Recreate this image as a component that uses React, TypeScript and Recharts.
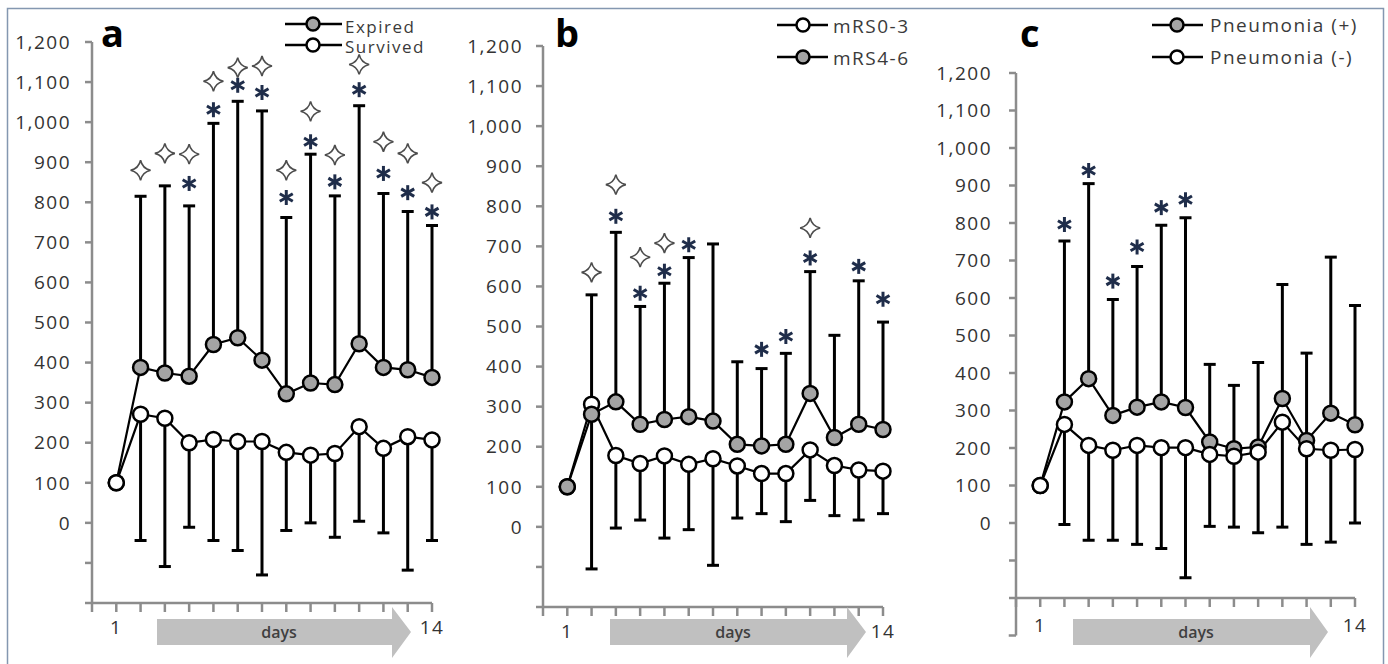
import React from 'react';
import { ComposedChart, Line, XAxis, YAxis, ErrorBar, Scatter, ReferenceLine } from 'recharts';

const DAYS = [1, 2, 3, 4, 5, 6, 7, 8, 9, 10, 11, 12, 13, 14];
const X_TICKS = [0, 1, 2, 3, 4, 5, 6, 7, 8, 9, 10, 11, 12, 13, 14];
const X_LABELED = [1, 14];
const Y_TICKS = [-200, -100, 0, 100, 200, 300, 400, 500, 600, 700, 800, 900, 1000, 1100, 1200];

// Panel a
const A_NAMES = ['Expired', 'Survived'];
const A_EXPIRED = [100, 388, 374, 366, 445, 462, 406, 322, 349, 345, 447, 388, 382, 363];
const A_SURVIVED = [100, 271, 261, 200, 208, 203, 203, 176, 169, 173, 240, 186, 215, 207];
const A_UPPER = [null, 815, 841, 791, 997, 1052, 1028, 762, 920, 816, 1041, 822, 777, 742];
const A_LOWER = [null, -44, -109, -11, -44, -69, -130, -19, 0, -36, 4, -25, -118, -44];
const A_ASTERISK = [null, null, null, 847, 1031, 1092, 1074, 812, 951, 851, 1081, 872, 824, 776];
const A_STAR = [null, 880, 922, 920, 1102, 1136, 1140, 880, 1027, 918, 1144, 951, 922, 849];

// Panel b
const B_NAMES = ['mRS0-3', 'mRS4-6'];
const B_MRS03 = [100, 306, 178, 158, 177, 156, 170, 152, 133, 133, 192, 153, 142, 139];
const B_MRS46 = [100, 281, 312, 256, 268, 275, 264, 206, 202, 206, 333, 223, 256, 243];
const B_UPPER = [null, 579, 735, 550, 608, 672, 706, 412, 395, 433, 637, 478, 614, 511];
const B_LOWER = [null, -105, -3, 17, -28, -7, -96, 22, 33, 13, 66, 28, 17, 33];
const B_ASTERISK = [null, null, 775, 583, 638, 704, null, null, 443, 475, 671, null, 650, 568];
const B_STAR = [null, 635, 854, 673, 708, null, null, null, null, null, 746, null, null, null];

// Panel c
const C_NAMES = ['Pneumonia (+)', 'Pneumonia (-)'];
const C_PLUS = [100, 323, 385, 287, 309, 323, 308, 216, 198, 203, 332, 220, 293, 262];
const C_MINUS = [100, 263, 207, 194, 207, 201, 201, 183, 178, 189, 269, 198, 194, 196];
const C_UPPER = [null, 752, 905, 596, 684, 794, 814, 423, 367, 428, 636, 453, 709, 580];
const C_LOWER = [null, -4, -46, -46, -57, -68, -146, -9, -11, -26, -11, -57, -51, 0];
const C_ASTERISK = [null, 796, 940, 645, 736, 841, 862, null, null, null, null, null, null, null];
const C_STAR: (number | null)[] = [null, null, null, null, null, null, null, null, null, null, null, null, null, null];

const FONT = "'Open Sans', 'Liberation Sans', sans-serif";
const AXIS_GRAY = '#8c8c8c';
const GRAY_FILL = '#a4a4a4';

function buildRows(hi: number[], lo: number[], up: (number | null)[], low: (number | null)[]) {
  return DAYS.map((d, i) => ({
    day: d,
    hi: hi[i],
    lo: lo[i],
    hiErr: up[i] == null ? null : [0, (up[i] as number) - hi[i]],
    loErr: low[i] == null ? null : [lo[i] - (low[i] as number), 0],
  }));
}

function marks(arr: (number | null)[]) {
  const out: { day: number; v: number }[] = [];
  arr.forEach((v, i) => {
    if (v != null) out.push({ day: DAYS[i], v });
  });
  return out;
}

const AsteriskShape = (p: any) => {
  const { cx, cy } = p;
  if (cx == null || cy == null) return null;
  const r = 7.5;
  const arms = [90, 30, 150].map((deg) => {
    const a = (deg * Math.PI) / 180;
    return { dx: Math.cos(a) * r, dy: Math.sin(a) * r };
  });
  return (
    <g>
      {arms.map((a, k) => (
        <line key={k} x1={cx - a.dx} y1={cy - a.dy} x2={cx + a.dx} y2={cy + a.dy}
          stroke="#1f2d4a" strokeWidth={3} strokeLinecap="butt" />
      ))}
    </g>
  );
};

const StarShape = (p: any) => {
  const { cx, cy } = p;
  if (cx == null || cy == null) return null;
  const s = 10;
  const c = 1.8;
  const d = `M ${cx} ${cy - s} Q ${cx + c} ${cy - c} ${cx + s} ${cy} Q ${cx + c} ${cy + c} ${cx} ${cy + s} Q ${cx - c} ${cy + c} ${cx - s} ${cy} Q ${cx - c} ${cy - c} ${cx} ${cy - s} Z`;
  return <path d={d} fill="#fff" stroke="#4d4d4d" strokeWidth={1.6} />;
};

type PanelProps = {
  left: number;
  width: number;
  margin: { top: number; right: number; bottom: number; left: number };
  rows: any[];
  topIsGray: boolean;
  asterisks: (number | null)[];
  stars: (number | null)[];
  yTickMargin: number;
  xTickMargin: number;
  extendBelow?: boolean;
};

function Panel(props: PanelProps) {
  const { left, width, margin, rows, topIsGray, asterisks, stars, yTickMargin, xTickMargin, extendBelow } = props;
  const grayLine = (
    <Line key="gray" dataKey="hi" stroke="#000" strokeWidth={2.2} isAnimationActive={false}
      dot={{ r: 7.5, fill: GRAY_FILL, stroke: '#000', strokeWidth: 2.5 }} activeDot={false} />
  );
  const whiteLine = (
    <Line key="white" dataKey="lo" stroke="#000" strokeWidth={2.2} isAnimationActive={false}
      dot={{ r: 7.5, fill: '#fff', stroke: '#000', strokeWidth: 2.5 }} activeDot={false} />
  );
  const ordered = topIsGray ? [whiteLine, grayLine] : [grayLine, whiteLine];
  const tickStyle = { fill: '#333', fontSize: 19, fontFamily: FONT, letterSpacing: 1.5 };
  return (
    <div style={{ position: 'absolute', left, top: 0, width, height: 664 }}>
      <ComposedChart width={width} height={664} data={rows} margin={margin}>
        <XAxis type="number" dataKey="day" domain={[0, 14]} ticks={X_TICKS} interval={0} height={40}
          tickFormatter={(v: number) => (X_LABELED.includes(v) ? String(v) : '')}
          axisLine={{ stroke: AXIS_GRAY, strokeWidth: 2.5 }} tickLine={{ stroke: AXIS_GRAY, strokeWidth: 2.5 }}
          tickSize={9} tickMargin={xTickMargin} tick={tickStyle} />
        <YAxis type="number" domain={[-200, 1200]} ticks={Y_TICKS} interval={0} width={80}
          tickFormatter={(v: number) => (v < 0 ? '' : v.toLocaleString('en-US'))}
          axisLine={{ stroke: AXIS_GRAY, strokeWidth: 2.5 }} tickLine={{ stroke: AXIS_GRAY, strokeWidth: 2.5 }}
          tickSize={7} tickMargin={yTickMargin} tick={tickStyle} />
        {extendBelow && (
          <ReferenceLine segment={[{ x: 0, y: -200 }, { x: 0, y: -300 }]} ifOverflow="visible"
            stroke={AXIS_GRAY} strokeWidth={2.5} />
        )}
        {extendBelow && (
          <ReferenceLine segment={[{ x: -0.3, y: -300 }, { x: 0, y: -300 }]} ifOverflow="visible"
            stroke={AXIS_GRAY} strokeWidth={2.5} />
        )}
        <Line dataKey="hi" stroke="none" strokeWidth={0} dot={false} activeDot={false} isAnimationActive={false}>
          <ErrorBar dataKey="hiErr" width={6} strokeWidth={3} stroke="#000" direction="y" />
        </Line>
        <Line dataKey="lo" stroke="none" strokeWidth={0} dot={false} activeDot={false} isAnimationActive={false}>
          <ErrorBar dataKey="loErr" width={6} strokeWidth={3} stroke="#000" direction="y" />
        </Line>
        {ordered}
        <Scatter data={marks(asterisks)} dataKey="v" shape={AsteriskShape} isAnimationActive={false} />
        <Scatter data={marks(stars)} dataKey="v" shape={StarShape} isAnimationActive={false} />
      </ComposedChart>
    </div>
  );
}

type LegendItem = { name: string; fill: string; y: number; ty: number };

function LegendGroup({ x1, x2, cx, tx, fs, items }: { x1: number; x2: number; cx: number; tx: number; fs: number; items: LegendItem[] }) {
  return (
    <g>
      {items.map((it, k) => (
        <g key={k}>
          <line x1={x1} x2={x2} y1={it.y} y2={it.y} stroke="#000" strokeWidth={2.5} />
          <circle cx={cx} cy={it.y} r={6.5} fill={it.fill} stroke="#000" strokeWidth={2.5} />
          <text x={tx} y={it.ty} fontFamily={FONT} fontSize={fs} fill="#3a3a3a" style={{ letterSpacing: 1.5 }}>{it.name}</text>
        </g>
      ))}
    </g>
  );
}

function DaysArrow({ x0, xh, xt, label }: { x0: number; xh: number; xt: number; label: number }) {
  const yTop = 619, yBot = 645, hTop = 607, hBot = 658, yMid = 632;
  const d = `M ${x0} ${yTop} L ${xh} ${yTop} L ${xh} ${hTop} L ${xt} ${yMid} L ${xh} ${hBot} L ${xh} ${yBot} L ${x0} ${yBot} Z`;
  return (
    <g>
      <path d={d} fill="#c0c0c0" />
      <text x={label} y={638} textAnchor="middle" fontFamily={FONT} fontSize={16} fontWeight={600} fill="#404040">days</text>
    </g>
  );
}

export default function App() {
  const aRows = buildRows(A_EXPIRED, A_SURVIVED, A_UPPER, A_LOWER);
  const bRows = buildRows(B_MRS46, B_MRS03, B_UPPER, B_LOWER);
  const cRows = buildRows(C_PLUS, C_MINUS, C_UPPER, C_LOWER);
  return (
    <div style={{ position: 'absolute', left: 0, top: 0, width: 1388, height: 664, background: '#fff', overflow: 'hidden' }}>
      <Panel left={0} width={460} margin={{ top: 42, right: 28, bottom: 21, left: 12 }} rows={aRows}
        topIsGray={false} asterisks={A_ASTERISK} stars={A_STAR} yTickMargin={14} xTickMargin={9} />
      <Panel left={460} width={460} margin={{ top: 46, right: 37, bottom: 17, left: 3 }} rows={bRows}
        topIsGray={true} asterisks={B_ASTERISK} stars={B_STAR} yTickMargin={13} xTickMargin={9} />
      <Panel left={920} width={468} margin={{ top: 73, right: 33, bottom: 26, left: 16 }} rows={cRows}
        topIsGray={false} asterisks={C_ASTERISK} stars={C_STAR} yTickMargin={17} xTickMargin={12} extendBelow />
      <svg width={1388} height={664} style={{ position: 'absolute', left: 0, top: 0, pointerEvents: 'none' }}>
        <rect x={7.5} y={8.5} width={1376} height={700} fill="none" stroke="#8497b0" strokeWidth={1.5} />
        <text x={101} y={47} fontFamily={FONT} fontWeight={700} fontSize={38} fill="#000">a</text>
        <text x={555} y={47} fontFamily={FONT} fontWeight={700} fontSize={38} fill="#000">b</text>
        <text x={1020} y={47} fontFamily={FONT} fontWeight={700} fontSize={38} fill="#000">c</text>
        <LegendGroup x1={285} x2={342} cx={313} tx={345} fs={17}
          items={[{ name: A_NAMES[0], fill: GRAY_FILL, y: 24, ty: 33 }, { name: A_NAMES[1], fill: '#fff', y: 45, ty: 53 }]} />
        <LegendGroup x1={777} x2={828} cx={803} tx={833} fs={19}
          items={[{ name: B_NAMES[0], fill: '#fff', y: 25, ty: 33 }, { name: B_NAMES[1], fill: GRAY_FILL, y: 57, ty: 65 }]} />
        <LegendGroup x1={1152} x2={1203} cx={1177} tx={1210} fs={19}
          items={[{ name: C_NAMES[0], fill: GRAY_FILL, y: 25, ty: 32 }, { name: C_NAMES[1], fill: '#fff', y: 57, ty: 64 }]} />
        <DaysArrow x0={157} xh={392} xt={411} label={279} />
        <DaysArrow x0={610} xh={847} xt={866} label={733} />
        <DaysArrow x0={1073} xh={1310} xt={1328} label={1196} />
      </svg>
    </div>
  );
}
